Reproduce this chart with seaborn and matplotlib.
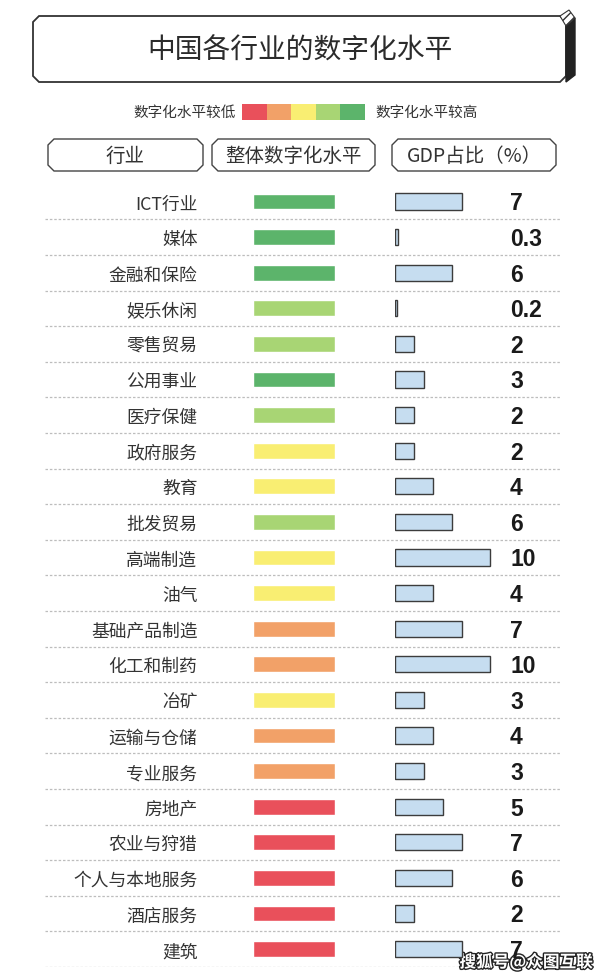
import matplotlib
matplotlib.use("Agg")
import matplotlib.pyplot as plt
import matplotlib.patheffects as pe
from matplotlib.patches import Polygon, Rectangle
import seaborn as sns
import pandas as pd

# data
industries = ["ICT行业", "媒体", "金融和保险", "娱乐休闲", "零售贸易", "公用事业", "医疗保健",
              "政府服务", "教育", "批发贸易", "高端制造", "油气", "基础产品制造", "化工和制药",
              "冶矿", "运输与仓储", "专业服务", "房地产", "农业与狩猎", "个人与本地服务",
              "酒店服务", "建筑"]
levels = [5, 5, 5, 4, 4, 5, 4, 3, 3, 4, 3, 3, 2, 2, 3, 2, 2, 1, 1, 1, 1, 1]
gdp = [7, 0.3, 6, 0.2, 2, 3, 2, 2, 4, 6, 10, 4, 7, 10, 3, 4, 3, 5, 7, 6, 2, 7]
gdp_labels = ["7", "0.3", "6", "0.2", "2", "3", "2", "2", "4", "6", "10", "4", "7", "10",
              "3", "4", "3", "5", "7", "6", "2", "7"]
level_colors = {1: "#E9505B", 2: "#F2A168", 3: "#F9EE72", 4: "#A8D574", 5: "#5CB46B"}
headers = ["行业", "整体数字化水平", "GDP占比（%）"]
title = "中国各行业的数字化水平"
legend_low = "数字化水平较低"
legend_high = "数字化水平较高"

df = pd.DataFrame({"行业": industries, "level": levels, "gdp": gdp})
df["bar"] = 1

sns.set_style("white")
plt.rcParams["font.family"] = ["Noto Sans CJK SC", "DejaVu Sans"]

W, H = 603, 978
fig = plt.figure(figsize=(W / 100, H / 100), dpi=100)
fig.patch.set_facecolor("white")

# background axes in pixel units for the frames and texts
bg = fig.add_axes([0, 0, 1, 1])
bg.set_xlim(0, W)
bg.set_ylim(H, 0)
bg.axis("off")


def chamfer_box(x0, y0, x1, y1, c=5, **kw):
    pts = [(x0 + c, y0), (x1 - c, y0), (x1, y0 + c), (x1, y1 - c),
           (x1 - c, y1), (x0 + c, y1), (x0, y1 - c), (x0, y0 + c)]
    bg.add_patch(Polygon(pts, closed=True, **kw))


# title box with a dark side
chamfer_box(33, 17, 566, 83, c=6, facecolor="white", edgecolor="#333333", lw=1.3)
bg.add_patch(Polygon([(566, 27), (575, 19), (575, 76), (566, 83)], closed=True,
                     facecolor="#222222", edgecolor="#222222", lw=1))
bg.add_patch(Polygon([(560, 17), (569, 11), (575, 19), (566, 27)], closed=True,
                     facecolor="white", edgecolor="#333333", lw=0.8, hatch="////"))
bg.text(300, 51, title, ha="center", va="center", fontsize=20, color="#2b2b2b")

# colour legend
bg.text(236, 113, legend_low, ha="right", va="center", fontsize=10.5, color="#333333")
sw = (365 - 242) / len(level_colors)
for k, lv in enumerate(sorted(level_colors)):
    bg.add_patch(Rectangle((242 + k * sw, 105), sw, 16, facecolor=level_colors[lv], lw=0))
bg.text(375, 113, legend_high, ha="left", va="center", fontsize=10.5, color="#333333")

# column headers
for (x0, x1), txt in zip([(48, 203), (212, 375), (392, 556)], headers):
    chamfer_box(x0, 140, x1, 172, c=6, facecolor="white", edgecolor="#444444", lw=1.0)
    bg.text((x0 + x1) / 2, 156, txt, ha="center", va="center", fontsize=14, color="#333333")

# rows area
top, bottom = 184.7, 967.9
rect_b = 1 - bottom / H
rect_h = (bottom - top) / H
n = len(industries)

ax_rows = fig.add_axes([40 / W, rect_b, (560 - 40) / W, rect_h])
ax_rows.set_xlim(0, 1)
ax_rows.set_ylim(n - 0.5, -0.5)
ax_rows.hlines([i + 0.5 for i in range(n)], 0.01, 1, colors="#bdbdbd",
               linestyles=(0, (2, 1.5)), lw=0.9)
ax_rows.axis("off")

ax_lvl = fig.add_axes([253 / W, rect_b, 82 / W, rect_h])
sns.barplot(data=df, x="bar", y="行业", hue="level", palette=level_colors, dodge=False,
            width=0.44, legend=False, ax=ax_lvl, saturation=1)
ax_lvl.set_xlim(0, 1)
ax_lvl.set_ylim(n - 0.5, -0.5)
ax_lvl.set_xlabel("")
ax_lvl.set_ylabel("")
ax_lvl.set_xticks([])
ax_lvl.tick_params(axis="y", left=False, pad=36.5, labelsize=12.8, labelcolor="#333333")
sns.despine(ax=ax_lvl, left=True, bottom=True)
ax_lvl.patch.set_alpha(0)

px_per_unit = 9.5
ax_gdp = fig.add_axes([395 / W, rect_b, 110 / W, rect_h])
sns.barplot(data=df, x="gdp", y="行业", color="#C6DDF0", edgecolor="#3c3c3c", linewidth=1,
            width=0.45, ax=ax_gdp, saturation=1)
ax_gdp.set_xlim(0, 110 / px_per_unit)
ax_gdp.set_ylim(n - 0.5, -0.5)
ax_gdp.axis("off")
for i, lab in enumerate(gdp_labels):
    ax_gdp.text((510 - 395) / px_per_unit, i + 0.04, lab, ha="left", va="center", fontsize=16.5,
                fontweight="bold", family="Liberation Sans", color="#1a1a1a", clip_on=False)

# watermark
bg.text(526, 963, "搜狐号@众图互联", ha="center", va="center", fontsize=12, fontweight="bold",
        color="white", path_effects=[pe.withStroke(linewidth=2, foreground="#222222")])

fig.savefig("out.png", dpi=100, facecolor="white")
